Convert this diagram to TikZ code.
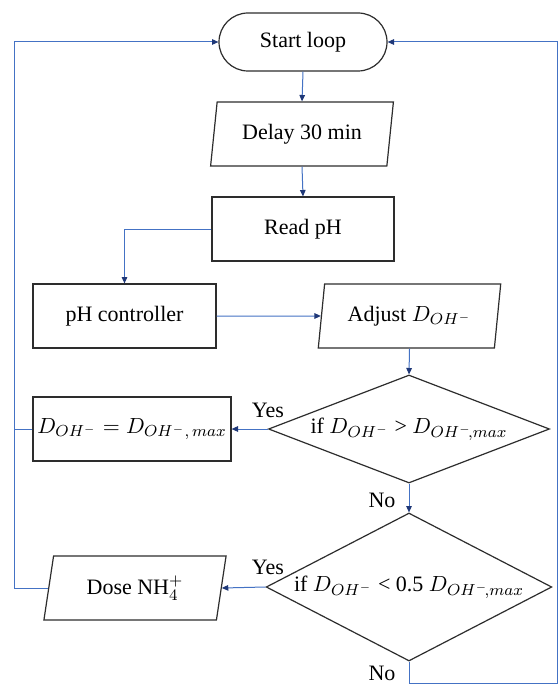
\documentclass[tikz,border=0pt]{standalone}
\usepackage{fontspec}
\setmainfont{Liberation Serif}
\usetikzlibrary{shapes.geometric,arrows.meta}
\definecolor{lineblue}{RGB}{68,114,196}
\definecolor{tipblue}{RGB}{31,56,120}
\definecolor{boxline}{RGB}{45,45,45}
\begin{document}
\begin{tikzpicture}[x=0.5pt,y=-0.5pt,
  every node/.style={font=\fontsize{11}{13}\selectfont},
  procbox/.style={draw=boxline, line width=0.6pt, rectangle, minimum height=32pt, inner sep=0pt},
  iobox/.style={draw=boxline, line width=0.6pt, trapezium, trapezium left angle=77, trapezium right angle=103,
     trapezium stretches=true, minimum width=91.5pt, minimum height=32pt, inner sep=0pt},
  termbox/.style={draw=boxline, line width=0.6pt, rectangle, rounded corners=14.5pt, minimum width=84pt, minimum height=29pt, inner sep=0pt},
  decbox/.style={draw=boxline, line width=0.6pt, diamond, aspect=2.5, minimum width=140.5pt, inner sep=0pt},
  conn/.style={draw=lineblue, line width=0.5pt},
  arr/.style={conn, -{Triangle[length=3.2pt,width=2.8pt,color=tipblue]}},
  lbl/.style={inner sep=0pt}
]
\useasboundingbox[fill=white] (0,0) rectangle (558,684);

\node[termbox] (start) at (303,42) {Start loop};
\node[iobox] (delay) at (302,134) {Delay 30 min};
\node[procbox, minimum width=91pt] (read) at (303,229) {Read pH};
\node[procbox, minimum width=91.5pt] (ctrl) at (124.5,316) {pH controller};
\node[iobox] (adjust) at (409.5,316) {Adjust $D_{OH^-}$};
\node[decbox, minimum height=54pt] (d1) at (409,429) {if $D_{OH^-}$ > $D_{OH^-\!,max}$};
\node[procbox, minimum width=99pt] (setmax) at (132,429) {$D_{OH^-} = D_{OH^-,\,max}$};
\node[decbox, minimum height=74pt] (d2) at (409,587) {if $D_{OH^-}$ < 0.5 $D_{OH^-\!,max}$};
\node[iobox] (dose) at (135,588) {Dose NH$_4^+$};

\node[lbl] (yes1) at (268,410) {Yes};
\node[lbl] (no1) at (382,500) {No};
\node[lbl] (yes2) at (268,567) {Yes};
\node[lbl] (no2) at (382,673) {No};

\coordinate (lj) at (14,429);
\coordinate (lb) at (14,588);
\coordinate (rb) at (557,683);

\draw[arr] (start.south) -- (delay.north);
\draw[arr] (delay.south) -- (read.north);
\draw[arr] (read.west) -| (ctrl.north);
\draw[arr] (ctrl.east) -- (adjust.west);
\draw[arr] (adjust.south) -- (d1.north);
\draw[arr] (d1.west) -- (setmax.east);
\draw[arr] (d1.south) -- (d2.north);
\draw[arr] (d2.west) -- (dose.east);
\draw[conn] (setmax.west) -- (lj);
\draw[arr] (dose.west) -- (lb) |- (start.west);
\draw[arr] (d2.south) |- (rb) |- (start.east);
\end{tikzpicture}
\end{document}
